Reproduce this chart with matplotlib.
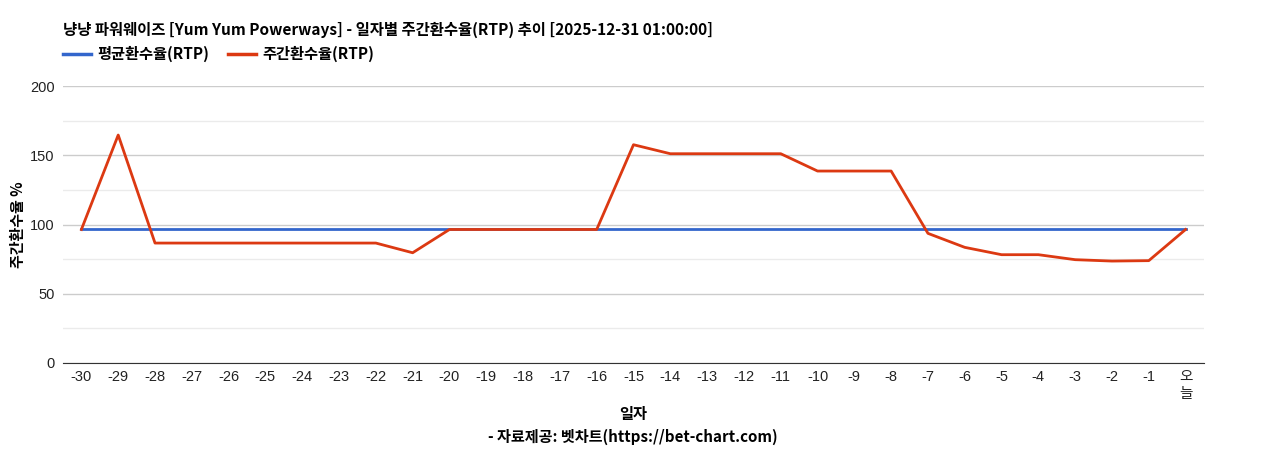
import matplotlib
matplotlib.use('Agg')
import matplotlib.pyplot as plt
from matplotlib.ticker import MultipleLocator
from matplotlib.lines import Line2D

plt.rcParams['font.family'] = ['Noto Sans CJK KR', 'DejaVu Sans']

# donnees
jours = ['-30', '-29', '-28', '-27', '-26', '-25', '-24', '-23', '-22', '-21',
         '-20', '-19', '-18', '-17', '-16', '-15', '-14', '-13', '-12', '-11',
         '-10', '-9', '-8', '-7', '-6', '-5', '-4', '-3', '-2', '-1', '오\n늘']
rtp_semaine = [96.4, 164.6, 86.6, 86.6, 86.6, 86.6, 86.6, 86.6, 86.6, 79.6,
               96.4, 96.4, 96.4, 96.4, 96.4, 157.6, 151.1, 151.1, 151.1, 151.1,
               138.6, 138.6, 138.6, 93.6, 83.5, 78.2, 78.2, 74.6, 73.6, 73.9, 96.4]
rtp_moyen = [96.4] * len(jours)

titre = '냥냥 파워웨이즈 [Yum Yum Powerways] - 일자별 주간환수율(RTP) 추이 [2025-12-31 01:00:00]'

fig = plt.figure(figsize=(12.68, 4.5), dpi=100)
ax = fig.add_axes([63/1268, 1 - 363/450, (1204-63)/1268, (363-86)/450])

x = list(range(len(jours)))
ax.plot(x, rtp_moyen, color='#3366cc', lw=2)
ax.plot(x, rtp_semaine, color='#dc3912', lw=2)

ax.set_xlim(-0.5, len(jours) - 0.5)
ax.set_ylim(0, 200)
ax.yaxis.set_major_locator(MultipleLocator(50))
ax.yaxis.set_minor_locator(MultipleLocator(25))
ax.grid(which='major', axis='y', color='#cccccc', lw=1)
ax.grid(which='minor', axis='y', color='#ebebeb', lw=1)
ax.set_axisbelow(True)
for s in ['top', 'right', 'left']:
    ax.spines[s].set_visible(False)
ax.spines['bottom'].set_color('#333333')
ax.tick_params(which='both', length=0)
ax.tick_params(axis='y', pad=6)
ax.tick_params(axis='x', pad=5)
ax.set_xticks(x)
ax.set_xticklabels(jours, fontsize=10.5, linespacing=1.3, va='top')
for t in ax.get_yticklabels():
    t.set_fontsize(10.5)
for t in ax.get_xticklabels() + ax.get_yticklabels():
    t.set_family(['Liberation Sans', 'Noto Sans CJK KR'])
    t.set_color('#222222')

ax.set_ylabel('주간환수율 %', fontsize=10.8, fontweight='bold', labelpad=3)

fig.text(63/1268, 1 - 30/450, titre, fontsize=11.1, fontweight='bold', va='center', ha='left')

# legende
poignees = [Line2D([], [], color='#3366cc', lw=2.5), Line2D([], [], color='#dc3912', lw=2.5)]
fig.legend(poignees, ['평균환수율(RTP)', '주간환수율(RTP)'], loc='center left',
           bbox_to_anchor=(63/1268, 1 - 54/450), ncol=2, frameon=False,
           borderpad=0, borderaxespad=0, handlelength=1.8, handletextpad=0.45,
           columnspacing=1.25, prop={'weight': 'bold', 'size': 11})

fig.text(633/1268, 1 - 414/450, '일자', fontsize=11, fontweight='bold', ha='center', va='center')
fig.text(633/1268, 1 - 437/450, '- 자료제공: 벳차트(https://bet-chart.com)', fontsize=10.9,
         fontweight='bold', ha='center', va='center')

fig.savefig('out.png', dpi=100)
